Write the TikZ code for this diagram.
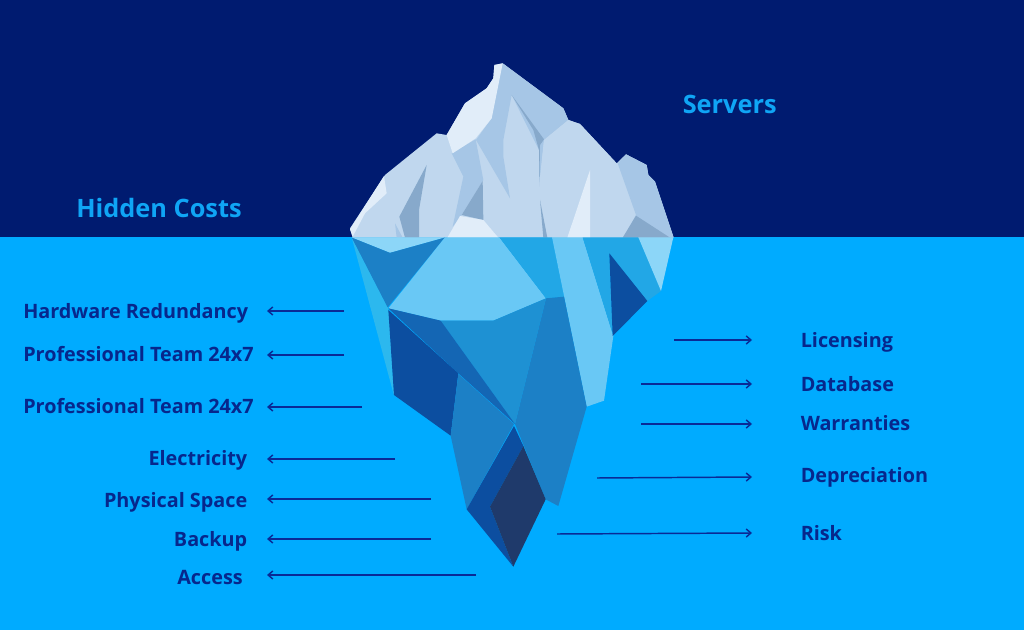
\documentclass[tikz,border=0pt]{standalone}
\usepackage{fontspec}
\usetikzlibrary{arrows.meta}
\setmainfont{Open Sans}
\definecolor{sky}{HTML}{001B70}
\definecolor{water}{HTML}{00ABFF}
\definecolor{headc}{HTML}{0FA5F5}
\definecolor{labelc}{HTML}{07278C}
\definecolor{arrowc}{HTML}{0A2A96}
\definecolor{iceA}{HTML}{E1EDF9}
\definecolor{iceB}{HTML}{C0D7EE}
\definecolor{iceC}{HTML}{A6C6E6}
\definecolor{iceD}{HTML}{87A9CB}
\definecolor{uwA}{HTML}{8CD6F8}
\definecolor{uwB}{HTML}{69C8F5}
\definecolor{uwC}{HTML}{22A7E6}
\definecolor{uwD}{HTML}{1E91D3}
\definecolor{uwE}{HTML}{1C80C6}
\definecolor{uwF}{HTML}{1466B4}
\definecolor{uwG}{HTML}{0C4EA0}
\definecolor{uwH}{HTML}{1F3A6B}
\definecolor{uwS}{HTML}{2CB8EE}
\tikzset{
  lab/.style={font=\bfseries\fontsize{14.85}{18}\selectfont,text=labelc,inner sep=0pt},
  head/.style={font=\bfseries\fontsize{19}{22}\selectfont,text=headc,inner sep=0pt},
  cost/.style={draw=arrowc,line width=1.1pt,-{Straight Barb[length=3.5pt,width=6pt]}}
}
\begin{document}
\begin{tikzpicture}[x=0.75pt,y=-0.75pt]
\useasboundingbox (0,0) rectangle (1024,630);
\fill[sky] (0,0) rectangle (1024,238);
\fill[water] (0,237) rectangle (1024,630);
% above the water, zoom coordinates
\begin{scope}[shift={(340,50)},x=0.25pt,y=-0.25pt]
\fill[iceB] (30,535)--(135,375)--(290,250)--(320,255)--(375,160)--(440,115)--(460,85)--(463,45)--(488,40)--(670,175)--(685,210)--(720,222)--(830,340)--(858,313)--(920,345)--(925,375)--(945,395)--(1000,560)--(1000,563)--(38,563)--cycle;
\fill[iceA] (30,538)--(132,378)--(140,430)--(75,490)--(38,560)--cycle;
\fill[iceD] (260,345)--(178,500)--(195,563)--(237,563)--(237,480)--cycle;
\fill[iceC] (165,520)--(188,563)--(170,563)--cycle;
\fill[iceC] (335,310)--(407,268)--(430,390)--(362,500)--(338,530)--(370,380)--cycle;
\fill[iceD] (428,393)--(365,495)--(430,510)--cycle;
\fill[iceC] (488,40)--(670,175)--(685,210)--(612,270)--(598,410)--(597,300)--(515,135)--(490,270)--(490,320)--(510,445)--(408,270)--(455,205)--cycle;
\fill[iceD] (515,135)--(612,268)--(600,285)--(598,410)--(597,300)--(580,240)--cycle;
\fill[iceA] (320,255)--(375,160)--(440,115)--(460,85)--(463,45)--(488,40)--(455,205)--(407,265)--(338,310)--cycle;
\fill[iceB] (612,270)--(685,210)--(720,222)--(830,340)--(888,495)--(850,563)--(622,563)--(600,450)--(598,400)--cycle;
\fill[iceA] (750,360)--(750,563)--(682,563)--cycle;
\fill[iceC] (833,340)--(858,313)--(920,345)--(925,375)--(945,395)--(1000,560)--(1000,563)--(850,563)--(888,495)--cycle;
\fill[iceD] (888,497)--(990,563)--(848,563)--cycle;
\fill[iceA] (322,563)--(360,498)--(430,510)--(475,563)--cycle;
\fill[iceD] (600,450)--(622,563)--(610,563)--cycle;
\end{scope}
% below the water, zoom coordinates
\begin{scope}[shift={(340,230)},x=0.25pt,y=-0.25pt]
\fill[uwS] (35,22)--(145,235)--(150,300)--(162,497)--cycle;
\fill[uwE] (35,22)--(150,68)--(315,22)--(143,232)--cycle;
\fill[uwA] (35,22)--(150,68)--(315,22)--cycle;
\fill[uwB] (315,22)--(478,22)--(618,205)--(460,272)--(302,272)--(145,235)--cycle;
\fill[uwC] (478,22)--(636,22)--(672,200)--(618,205)--cycle;
\fill[uwB] (636,22)--(728,22)--(820,318)--(792,512)--(740,530)--cycle;
\fill[uwC] (728,22)--(895,22)--(963,183)--(922,213)--(808,70)--(818,312)--cycle;
\fill[uwG] (808,70)--(922,213)--(818,318)--cycle;
\fill[uwA] (895,22)--(1000,22)--(963,183)--cycle;
\fill[uwE] (618,205)--(672,200)--(740,530)--(655,828)--(617,808)--(525,582)--cycle;
\fill[uwD] (302,272)--(460,272)--(618,205)--(525,582)--cycle;
\fill[uwF] (145,235)--(302,272)--(525,582)--(355,430)--cycle;
\fill[uwG] (145,240)--(355,430)--(332,617)--(162,495)--cycle;
\fill[uwE] (355,432)--(522,582)--(380,838)--(332,617)--cycle;
\fill[uwG] (522,588)--(550,648)--(450,830)--(520,1010)--(380,838)--cycle;
\fill[uwH] (550,648)--(617,808)--(520,1010)--(450,830)--cycle;
\end{scope}
% headings
\node[head,anchor=base west] (servers) at (682.5,114) {Servers};
\node[head,anchor=base west] (hidden) at (76,218) {Hidden Costs};
% left labels
\node[lab,anchor=base west] (l1) at (23,319) {Hardware Redundancy};
\node[lab,anchor=base west] (l2) at (23,362) {Professional Team 24x7};
\node[lab,anchor=base west] (l3) at (23,414) {Professional Team 24x7};
\node[lab,anchor=base east] (l4) at (247.5,465) {Electricity};
\node[lab,anchor=base east] (l5) at (247.5,508) {Physical Space};
\node[lab,anchor=base east] (l6) at (247.5,546) {Backup};
\node[lab,anchor=base east] (l7) at (243,584) {Access};
% right labels
\node[lab,anchor=base west] (r1) at (800.5,348) {Licensing};
\node[lab,anchor=base west] (r2) at (800.5,392) {Database};
\node[lab,anchor=base west] (r3) at (800.5,431) {Warranties};
\node[lab,anchor=base west] (r4) at (800.5,483) {Depreciation};
\node[lab,anchor=base west] (r5) at (800.5,540) {Risk};
% arrow ends
\coordinate (a1) at (344,311); \coordinate (b1) at (267,311);
\coordinate (a2) at (344,355); \coordinate (b2) at (267,355);
\coordinate (a3) at (362,407); \coordinate (b3) at (267,407);
\coordinate (a4) at (395,459); \coordinate (b4) at (267,459);
\coordinate (a5) at (431,499); \coordinate (b5) at (267,499);
\coordinate (a6) at (431,539); \coordinate (b6) at (267,539);
\coordinate (a7) at (476,575); \coordinate (b7) at (267,575);
\coordinate (c1) at (674,340); \coordinate (d1) at (752,340);
\coordinate (c2) at (641,384); \coordinate (d2) at (752,384);
\coordinate (c3) at (641,424); \coordinate (d3) at (752,424);
\coordinate (c4) at (597,478); \coordinate (d4) at (752,477);
\coordinate (c5) at (557,534); \coordinate (d5) at (752,533);
\foreach \i in {1,...,7} {\draw[cost] (a\i) -- (b\i);}
\foreach \i in {1,...,5} {\draw[cost] (c\i) -- (d\i);}
\end{tikzpicture}
\end{document}
